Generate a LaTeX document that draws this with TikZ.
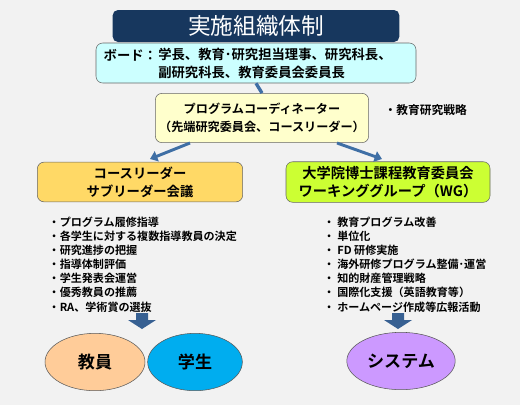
\documentclass[tikz,border=0pt]{standalone}
\usepackage{fontspec}
\setmainfont{Noto Sans CJK JP}[BoldFont={Noto Sans CJK JP Bold}]
\usepackage{xcolor}
\usetikzlibrary{arrows.meta,positioning,calc,shapes.geometric}

\definecolor{navy}{HTML}{17375E}
\definecolor{boardfill}{HTML}{CCFFFF}
\definecolor{coordfill}{HTML}{FFFFCC}
\definecolor{goldfill}{HTML}{FFD966}
\definecolor{limefill}{HTML}{CCFF33}
\definecolor{peach}{HTML}{FFCC99}
\definecolor{lavender}{HTML}{CC99FF}
\definecolor{linkblue}{HTML}{3F6FA5}
\definecolor{blockblue}{HTML}{376092}
\definecolor{bgray}{HTML}{F2F2F2}

\begin{document}
\begin{tikzpicture}[x=0.75pt,y=-0.75pt,>=Latex,
  box/.style={draw=gray!80!black,rounded corners=5pt,align=center,font=\bfseries},
  item/.style={align=left,anchor=north west,font=\bfseries\fontsize{8.3}{10.6}\selectfont},
  oval/.style={ellipse,draw=gray!70!black,font=\bfseries\fontsize{12.8}{14}\selectfont},
  link/.style={line width=2.2pt,draw=linkblue,-{Triangle[width=8pt,length=5.5pt]}}]
  \fill[bgray] (0,0) rectangle (520,405);
  \useasboundingbox (0,0) rectangle (520,405);
  % top
  \node[fill=navy,rounded corners=4pt,minimum width=215pt,minimum height=24pt,
    text=white,font=\fontsize{17}{19}\selectfont] (title) at (256,26) {実施組織体制};
  \node[box,fill=boardfill,minimum width=240pt,minimum height=30pt] (board) at (256,63) {};
  \node[anchor=west,font=\bfseries\fontsize{10}{13.5}\selectfont] (bdlab) at (99,55) {ボード：};
  \node[anchor=north west,align=left,inner sep=0pt,font=\bfseries\fontsize{10}{13.5}\selectfont]
    (bdtxt) at (158,48) {学長、教育･研究担当理事、研究科長、\\副研究科長、教育委員会委員長};
  \node[box,fill=coordfill,minimum width=160pt,minimum height=37pt,inner xsep=2pt,
    font=\bfseries\fontsize{9.1}{13.5}\selectfont] (coord) at (262,118)
    {プログラムコーディネーター\\（先端研究委員会、コースリーダー）};
  \node[anchor=west,font=\bfseries\fontsize{8.8}{10}\selectfont] (strat) at (380,110) {・教育研究戦略};
  \draw[line width=2.5pt,draw=linkblue] (board.south) -- (coord.north);
  % committees
  \node[box,fill=goldfill,minimum width=154pt,minimum height=29pt,
    font=\bfseries\fontsize{10}{13.5}\selectfont] (lead) at (140,182)
    {コースリーダー\\サブリーダー会議};
  \node[box,fill=limefill,minimum width=153pt,minimum height=29pt,
    font=\bfseries\fontsize{10.7}{13.5}\selectfont] (wg) at (388,182)
    {大学院博士課程教育委員会\\ワーキンググループ（WG）};
  \coordinate (la) at (190,143);
  \coordinate (lb) at (150,159);
  \coordinate (ra) at (337,143);
  \coordinate (rb) at (382,159);
  \draw[link] (la) -- (lb);
  \draw[link] (ra) -- (rb);
  % tasks
  \node[item] (tasksl) at (44,212) {・プログラム履修指導\\・各学生に対する複数指導教員の決定\\・研究進捗の把握\\・指導体制評価\\・学生発表会運営\\・優秀教員の推薦\\・RA、学術賞の選抜};
  \node[item] (tasksr) at (319,212) {・ 教育プログラム改善\\・ 単位化\\・ FD 研修実施\\・ 海外研修プログラム整備･運営\\・ 知的財産管理戦略\\・ 国際化支援（英語教育等）\\・ ホームページ作成等広報活動};
  % block arrows
  \fill[blockblue] (136,313) -- (148,313) -- (148,320) -- (156,320) -- (142,329)
    -- (128,320) -- (136,320) -- cycle;
  \fill[blockblue] (392,313) -- (404,313) -- (404,320) -- (412,320) -- (398,329)
    -- (384,320) -- (392,320) -- cycle;
  % results
  \node[oval,fill=peach,minimum width=75pt,minimum height=43pt] (staff) at (95,362) {教員};
  \node[oval,fill=cyan,minimum width=71pt,minimum height=43pt] (stud) at (195,362) {学生};
  \node[oval,fill=lavender,minimum width=75pt,minimum height=43pt] (sys) at (401,361) {システム};
\end{tikzpicture}
\end{document}
